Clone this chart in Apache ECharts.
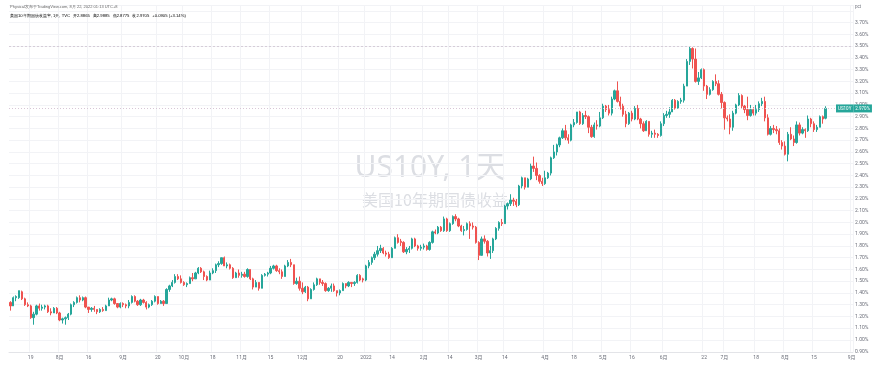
<!DOCTYPE html>
<html>
<head>
<meta charset="utf-8">
<title>US10Y 1天</title>
<script src="https://cdn.jsdelivr.net/npm/echarts@6/dist/echarts.min.js"></script>
<style>
  html, body { margin: 0; padding: 0; background: #fff; }
  #chart { width: 872px; height: 366px; }
</style>
</head>
<body>
<div id="chart"></div>
<script>
// 日K线数据，每根: [开, 收, 低, 高]
var jul21 = [
  [1.32,1.29,1.25,1.33],[1.29,1.36,1.29,1.37],[1.36,1.37,1.33,1.38],[1.36,1.42,1.35,1.42],[1.41,1.35,1.34,1.42],
  [1.35,1.30,1.29,1.36],[1.30,1.29,1.28,1.32],[1.29,1.19,1.18,1.30],[1.19,1.22,1.13,1.24],[1.22,1.29,1.21,1.30],
  [1.29,1.27,1.25,1.31],[1.27,1.28,1.25,1.30],[1.28,1.29,1.26,1.30],[1.29,1.24,1.23,1.30],[1.24,1.23,1.21,1.27],
  [1.23,1.27,1.23,1.28],[1.27,1.23,1.22,1.28]
];
var aug21 = [
  [1.23,1.17,1.16,1.24],[1.17,1.18,1.14,1.19],[1.18,1.19,1.13,1.20],[1.19,1.22,1.17,1.23],[1.22,1.30,1.21,1.31],
  [1.30,1.32,1.28,1.33],[1.32,1.36,1.31,1.37],[1.36,1.34,1.32,1.38],[1.34,1.36,1.33,1.37],[1.36,1.28,1.27,1.37],
  [1.28,1.26,1.23,1.28],[1.26,1.27,1.24,1.28],[1.27,1.26,1.24,1.29],[1.26,1.24,1.22,1.26],[1.24,1.26,1.23,1.27],
  [1.26,1.25,1.24,1.28],[1.25,1.29,1.25,1.30],[1.29,1.34,1.29,1.36],[1.34,1.35,1.33,1.36],[1.35,1.31,1.30,1.36],
  [1.31,1.28,1.27,1.31],[1.28,1.31,1.27,1.32]
];
var sep21 = [
  [1.31,1.30,1.28,1.32],[1.30,1.29,1.27,1.31],[1.29,1.32,1.27,1.34],[1.32,1.37,1.31,1.38],[1.37,1.33,1.32,1.38],
  [1.33,1.30,1.29,1.34],[1.30,1.34,1.29,1.35],[1.34,1.32,1.31,1.35],[1.32,1.28,1.26,1.33],[1.28,1.30,1.27,1.31],
  [1.30,1.33,1.29,1.34],[1.33,1.37,1.32,1.38],[1.37,1.31,1.30,1.37],[1.31,1.33,1.31,1.34],[1.33,1.31,1.29,1.34],
  [1.31,1.43,1.31,1.44],[1.43,1.46,1.41,1.47],[1.46,1.49,1.45,1.51],[1.49,1.54,1.48,1.56],[1.54,1.52,1.51,1.56],
  [1.52,1.49,1.48,1.55]
];
var oct21 = [
  [1.49,1.47,1.46,1.50],[1.47,1.48,1.45,1.49],[1.48,1.53,1.48,1.54],[1.53,1.52,1.50,1.57],[1.52,1.57,1.52,1.58],
  [1.57,1.61,1.56,1.62],[1.61,1.58,1.57,1.62],[1.58,1.54,1.51,1.59],[1.54,1.51,1.50,1.55],[1.51,1.57,1.51,1.59],
  [1.57,1.59,1.56,1.61],[1.59,1.64,1.57,1.65],[1.64,1.65,1.62,1.67],[1.65,1.70,1.64,1.70],[1.70,1.63,1.63,1.71],
  [1.63,1.64,1.61,1.66],[1.64,1.61,1.60,1.65],[1.61,1.53,1.52,1.62],[1.53,1.57,1.53,1.58],[1.57,1.55,1.53,1.60]
];
var nov21 = [
  [1.55,1.56,1.53,1.58],[1.56,1.54,1.53,1.58],[1.54,1.60,1.53,1.61],[1.60,1.52,1.51,1.60],[1.52,1.45,1.43,1.53],
  [1.45,1.49,1.45,1.51],[1.49,1.44,1.42,1.49],[1.44,1.55,1.44,1.56],[1.55,1.56,1.54,1.57],[1.56,1.57,1.54,1.58],
  [1.57,1.61,1.56,1.63],[1.61,1.63,1.60,1.64],[1.63,1.59,1.58,1.64],[1.59,1.58,1.56,1.61],[1.58,1.54,1.52,1.60],
  [1.54,1.63,1.54,1.64],[1.63,1.66,1.62,1.68],[1.66,1.64,1.62,1.69],[1.64,1.48,1.47,1.64],[1.48,1.50,1.47,1.53],
  [1.50,1.44,1.42,1.54]
];
var dec21 = [
  [1.44,1.41,1.39,1.49],[1.41,1.45,1.40,1.46],[1.45,1.35,1.33,1.46],[1.35,1.43,1.35,1.44],[1.43,1.47,1.42,1.49],
  [1.47,1.52,1.46,1.53],[1.52,1.49,1.47,1.52],[1.49,1.48,1.46,1.51],[1.48,1.42,1.41,1.49],[1.42,1.44,1.41,1.45],
  [1.44,1.46,1.41,1.48],[1.46,1.42,1.41,1.48],[1.42,1.40,1.37,1.42],[1.40,1.42,1.38,1.43],[1.42,1.48,1.42,1.49],
  [1.48,1.46,1.44,1.48],[1.46,1.49,1.45,1.50],[1.49,1.48,1.45,1.49],[1.48,1.49,1.46,1.50],[1.49,1.55,1.48,1.56],
  [1.55,1.51,1.50,1.56],[1.52,1.51,1.49,1.53]
];
var jan22 = [
  [1.51,1.63,1.50,1.64],[1.63,1.66,1.61,1.68],[1.66,1.70,1.64,1.71],[1.70,1.73,1.68,1.75],[1.73,1.76,1.71,1.80],
  [1.76,1.78,1.74,1.81],[1.78,1.74,1.73,1.79],[1.74,1.73,1.71,1.76],[1.73,1.70,1.69,1.75],[1.70,1.78,1.70,1.79],
  [1.78,1.87,1.78,1.88],[1.87,1.83,1.82,1.90],[1.84,1.83,1.80,1.86],[1.83,1.75,1.74,1.84],[1.75,1.77,1.73,1.79],
  [1.77,1.78,1.74,1.80],[1.78,1.86,1.77,1.87],[1.86,1.80,1.79,1.87],[1.80,1.78,1.76,1.81],[1.78,1.79,1.76,1.81]
];
var feb22 = [
  [1.79,1.80,1.77,1.82],[1.80,1.77,1.76,1.81],[1.77,1.83,1.76,1.84],[1.83,1.92,1.82,1.93],[1.92,1.91,1.90,1.94],
  [1.91,1.96,1.90,1.97],[1.96,1.93,1.92,1.97],[1.93,2.03,1.92,2.05],[2.03,1.93,1.92,2.04],[1.93,1.99,1.92,2.00],
  [1.99,2.05,1.98,2.06],[2.05,2.03,2.01,2.07],[2.03,1.97,1.96,2.04],[1.97,1.93,1.92,1.98],[1.93,1.94,1.89,1.97],
  [1.94,1.99,1.93,2.00],[1.99,1.97,1.86,2.01],[1.97,1.96,1.94,2.00],[1.96,1.83,1.82,1.97]
];
var mar22 = [
  [1.83,1.72,1.68,1.84],[1.72,1.86,1.72,1.88],[1.86,1.84,1.82,1.89],[1.84,1.74,1.71,1.85],[1.74,1.76,1.69,1.80],
  [1.76,1.86,1.74,1.87],[1.86,1.95,1.85,1.96],[1.95,2.00,1.93,2.01],[2.00,1.99,1.97,2.03],[1.99,2.14,1.99,2.15],
  [2.14,2.16,2.11,2.17],[2.16,2.19,2.14,2.24],[2.19,2.18,2.14,2.21],[2.18,2.15,2.13,2.20],[2.15,2.31,2.14,2.32],
  [2.31,2.38,2.29,2.39],[2.38,2.30,2.28,2.38],[2.30,2.37,2.30,2.38],[2.37,2.48,2.36,2.50],[2.48,2.46,2.43,2.56],
  [2.46,2.40,2.36,2.51],[2.40,2.35,2.33,2.41],[2.35,2.33,2.31,2.38]
];
var apr22 = [
  [2.33,2.38,2.32,2.44],[2.38,2.42,2.37,2.43],[2.42,2.55,2.40,2.56],[2.55,2.60,2.54,2.66],[2.60,2.66,2.57,2.67],
  [2.66,2.72,2.64,2.73],[2.72,2.78,2.71,2.80],[2.78,2.72,2.70,2.83],[2.72,2.70,2.67,2.75],[2.70,2.83,2.69,2.84],
  [2.83,2.85,2.81,2.88],[2.85,2.94,2.84,2.94],[2.94,2.84,2.83,2.95],[2.84,2.91,2.83,2.93],[2.91,2.90,2.88,2.95],
  [2.90,2.81,2.76,2.91],[2.81,2.73,2.72,2.83],[2.73,2.83,2.72,2.85],[2.83,2.82,2.79,2.87],[2.82,2.89,2.81,2.94]
];
var may22 = [
  [2.89,2.99,2.88,3.01],[2.99,2.96,2.94,3.00],[2.96,2.93,2.91,3.00],[2.93,3.05,2.91,3.07],[3.05,3.12,3.04,3.13],
  [3.12,3.03,3.02,3.20],[3.03,2.99,2.96,3.07],[2.99,2.92,2.90,3.01],[2.92,2.84,2.81,2.95],[2.84,2.93,2.83,2.94],
  [2.93,2.88,2.86,2.95],[2.88,2.97,2.87,2.99],[2.97,2.88,2.87,3.00],[2.88,2.84,2.80,2.89],[2.84,2.78,2.77,2.86],
  [2.78,2.86,2.78,2.87],[2.86,2.75,2.73,2.86],[2.75,2.76,2.72,2.78],[2.76,2.75,2.72,2.79],[2.75,2.74,2.72,2.76],
  [2.74,2.84,2.73,2.86]
];
var jun22 = [
  [2.84,2.91,2.82,2.93],[2.91,2.92,2.89,2.95],[2.92,2.94,2.89,2.98],[2.94,3.04,2.94,3.05],[3.04,2.97,2.96,3.05],
  [2.97,3.03,2.97,3.04],[3.03,3.04,3.01,3.06],[3.04,3.16,3.02,3.18],[3.16,3.37,3.16,3.39],[3.37,3.48,3.34,3.50],
  [3.48,3.39,3.31,3.49],[3.39,3.20,3.19,3.48],[3.20,3.23,3.17,3.28],[3.23,3.30,3.22,3.31],[3.30,3.16,3.12,3.31],
  [3.16,3.09,3.05,3.17],[3.09,3.13,3.08,3.15],[3.13,3.20,3.12,3.21],[3.20,3.18,3.16,3.26],[3.18,3.09,3.08,3.21],
  [3.09,3.02,2.97,3.11]
];
var jul22 = [
  [3.02,2.89,2.79,3.03],[2.89,2.88,2.86,2.91],[2.88,2.81,2.75,2.92],[2.81,2.93,2.78,2.95],[2.93,3.00,2.92,3.01],
  [3.00,3.08,2.99,3.10],[3.08,2.99,2.97,3.09],[2.99,2.96,2.93,3.00],[2.96,2.91,2.87,3.07],[2.91,2.96,2.90,3.00],
  [2.96,2.93,2.91,2.98],[2.93,2.96,2.91,3.00],[2.96,3.01,2.94,3.03],[3.01,3.03,2.99,3.06],[3.03,2.89,2.86,3.07],
  [2.89,2.75,2.74,2.92],[2.75,2.80,2.74,2.82],[2.80,2.79,2.76,2.83],[2.79,2.78,2.75,2.82],[2.78,2.68,2.66,2.80],
  [2.68,2.65,2.62,2.70]
];
var aug22 = [
  [2.65,2.58,2.57,2.69],[2.58,2.75,2.52,2.77],[2.75,2.71,2.70,2.81],[2.71,2.68,2.65,2.74],[2.68,2.83,2.67,2.86],
  [2.83,2.76,2.74,2.85],[2.76,2.79,2.75,2.81],[2.79,2.78,2.72,2.80],[2.78,2.88,2.77,2.91],[2.88,2.84,2.81,2.89],
  [2.84,2.79,2.77,2.86],[2.79,2.81,2.77,2.83],[2.81,2.90,2.81,2.91],[2.90,2.88,2.84,2.91],[2.8865,2.9705,2.8775,2.9885]
];

// 时间轴: 交易日 (跳过周末和休市日)，末尾留几天空白
var firstDay = '2021-07-08';
var lastDay = '2022-09-01';
var holidays = ['2021-09-06', '2021-10-11', '2021-11-25', '2021-12-24', '2022-01-17',
  '2022-02-21', '2022-04-15', '2022-05-30', '2022-06-20'];

// 时间轴上显示的刻度
var tickLabels = [
  ['2021-07-19', '19'], ['2021-08-02', '8月'], ['2021-08-16', '16'], ['2021-09-01', '9月'],
  ['2021-09-20', '20'], ['2021-10-01', '10月'], ['2021-10-18', '18'], ['2021-11-01', '11月'],
  ['2021-11-15', '15'], ['2021-12-01', '12月'], ['2021-12-20', '20'], ['2022-01-03', '2022'],
  ['2022-01-14', '14'], ['2022-02-01', '2月'], ['2022-02-14', '14'], ['2022-03-01', '3月'],
  ['2022-03-14', '14'], ['2022-04-01', '4月'], ['2022-04-18', '18'], ['2022-05-02', '5月'],
  ['2022-05-16', '16'], ['2022-06-01', '6月'], ['2022-06-22', '22'], ['2022-07-01', '7月'],
  ['2022-07-18', '18'], ['2022-08-01', '8月'], ['2022-08-15', '15'], ['2022-09-01', '9月']
];

var upColor = '#26a69a';
var downColor = '#ef5350';
var labelColor = '#6a6d78';
var gridColor = '#f2f3f6';

var candles = [].concat(jul21, aug21, sep21, oct21, nov21, dec21, jan22, feb22,
  mar22, apr22, may22, jun22, jul22, aug22);

var dates = [];
var end = new Date(lastDay + 'T00:00:00Z');
for (var d = new Date(firstDay + 'T00:00:00Z'); d <= end; d.setUTCDate(d.getUTCDate() + 1)) {
  var wd = d.getUTCDay();
  var s = d.toISOString().slice(0, 10);
  if (wd === 0 || wd === 6 || holidays.indexOf(s) >= 0) continue;
  dates.push(s);
}

var labelMap = {};
tickLabels.forEach(function (t) { labelMap[t[0]] = t[1]; });
function isTick(index, value) { return labelMap[value] !== undefined; }

var last = candles[candles.length - 1];
var prevClose = candles[candles.length - 2][1];
var change = last[1] - prevClose;
var highest = Math.max.apply(null, candles.map(function (c) { return c[3]; }));

var headerRich = {
  n: { color: '#131722', fontSize: 4.2 },
  k: { color: '#131722', fontSize: 4.2, padding: [0, 0, 0, 3] },
  v: { color: upColor, fontSize: 4.2 }
};
var headerText = '{n|美国10年期国债收益率, 1天, TVC}' +
  '{k|开}{v|' + last[0].toFixed(4) + '}' +
  '{k|高}{v|' + last[3].toFixed(4) + '}' +
  '{k|低}{v|' + last[2].toFixed(4) + '}' +
  '{k|收}{v|' + last[1].toFixed(4) + '}' +
  '{k|}{v|+' + change.toFixed(4) + ' (+' + (change / prevClose * 100).toFixed(2) + '%)}';

var chart = echarts.init(document.getElementById('chart'));

var option = {
  animation: false,
  backgroundColor: '#ffffff',
  textStyle: { fontFamily: 'Roboto, "Noto Sans CJK SC", sans-serif' },
  grid: { left: 9, right: 19, top: 5, bottom: 14.25 },
  xAxis: {
    type: 'category',
    data: dates,
    boundaryGap: true,
    axisLine: { lineStyle: { color: '#e3e4e8' } },
    axisTick: { show: false },
    axisLabel: {
      interval: isTick,
      formatter: function (v) { return labelMap[v] || ''; },
      fontSize: 5,
      color: labelColor,
      margin: 3
    },
    splitLine: { show: true, interval: isTick, lineStyle: { color: gridColor, width: 1 } }
  },
  yAxis: {
    type: 'value',
    position: 'right',
    min: 0.9,
    max: 3.85,
    interval: 0.1,
    axisLine: { show: false },
    axisTick: { show: false },
    axisLabel: {
      fontSize: 5,
      color: labelColor,
      margin: 2,
      formatter: function (v) { return v > 3.75 ? '' : v.toFixed(2) + '%'; }
    },
    splitLine: { lineStyle: { color: gridColor, width: 1 } }
  },
  graphic: [
    {
      type: 'text', left: 10, top: 4.5, z: 10,
      style: { text: 'Physical发布于TradingView.com, 8月 22, 2022 01:13 UTC+8', fontSize: 4, fill: '#666' }
    },
    {
      type: 'text', left: 10, top: 13.5, z: 10,
      style: { text: headerText, rich: headerRich, fontSize: 4.2 }
    },
    {
      type: 'text', left: 855, top: 4, z: 10,
      style: { text: 'pct', fontSize: 4.5, fill: labelColor }
    },
    {
      // 水印
      type: 'text', x: 430, y: 168, z: 0, silent: true,
      style: {
        text: 'US10Y, 1天', fontSize: 30, fill: '#dcdee3',
        align: 'center', verticalAlign: 'middle',
        fontFamily: '"Noto Sans", "Noto Sans CJK SC", sans-serif'
      }
    },
    {
      type: 'text', x: 435, y: 200, z: 0, silent: true,
      style: {
        text: '美国10年期国债收益', fontSize: 16, fill: '#dcdee3',
        align: 'center', verticalAlign: 'middle',
        fontFamily: '"Noto Sans CJK SC", sans-serif'
      }
    }
  ],
  series: [{
    type: 'candlestick',
    data: candles,
    barWidth: 1.8,
    itemStyle: {
      color: upColor,
      color0: downColor,
      borderColor: upColor,
      borderColor0: downColor,
      borderWidth: 1
    },
    markLine: {
      silent: true,
      symbol: 'none',
      animation: false,
      data: [
        {
          yAxis: highest,
          lineStyle: { color: '#d6cdd8', type: [2, 2], width: 1 },
          label: { show: false }
        },
        {
          yAxis: last[1],
          lineStyle: { color: '#d8c6d6', type: [1, 2], width: 1 },
          label: {
            show: true,
            position: 'end',
            distance: -17,
            formatter: '{a|US10Y}{b|' + last[1].toFixed(3) + '%}',
            rich: {
              a: { backgroundColor: upColor, color: '#fff', fontSize: 4.5, padding: [2, 2, 1.5, 2] },
              b: { backgroundColor: upColor, color: '#fff', fontSize: 4.5, padding: [2, 2, 1.5, 2] }
            }
          }
        }
      ]
    }
  }]
};

chart.setOption(option);
</script>
</body>
</html>
